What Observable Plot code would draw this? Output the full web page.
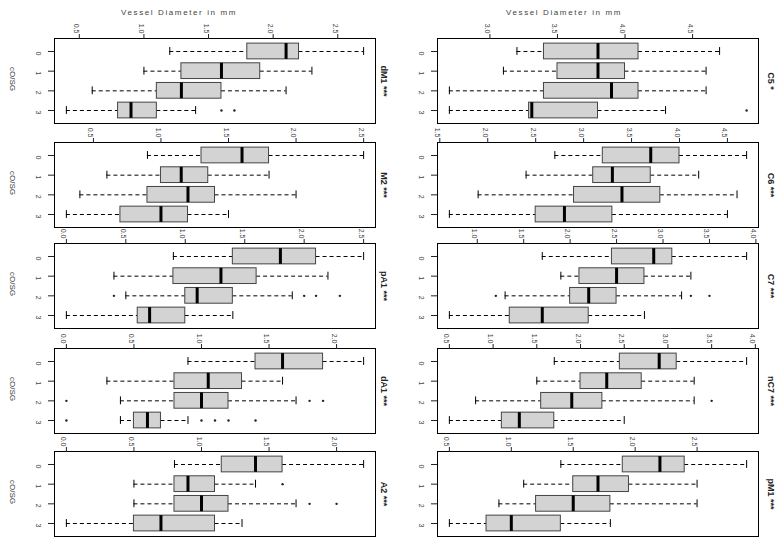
<!DOCTYPE html>
<html><head><meta charset="utf-8">
<script src="https://cdn.jsdelivr.net/npm/d3@7"></script>
<script src="https://cdn.jsdelivr.net/npm/@observablehq/plot@0.6"></script>
<style>
body{margin:0;background:#fff;}
#page{position:relative;width:780px;height:544px;overflow:hidden;font-family:"Liberation Sans",Arial,sans-serif;background:#fff;}
.rot{position:absolute;transform:translate(-50%,-50%) rotate(90deg);white-space:nowrap;color:#333;line-height:1;}
.hz{position:absolute;transform:translate(-50%,-50%);white-space:nowrap;color:#444;font-size:8px;letter-spacing:1.6px;line-height:1;}
.panel{position:absolute;}
</style></head><body><div id="page"></div>
<script>
// ---- data ----
const groups = ["0","1","2","3"];
const groupAxisLabel = "cO/SG";
const valueAxisLabel = "Vessel Diameter in mm";
const titlesLeft = ["dM1 ***","M2 ***","pA1 ***","dA1 ***","A2 ***"];
const titlesRight = ["C5 *","C6 ***","C7 ***","nC7 ***","pM1 ***"];

// five-number summaries per group 0..3: [lower whisker, Q1, median, Q3, upper whisker]
const dM1Stats = [[1.2,1.8,2.1,2.2,2.7],[1.0,1.29,1.6,1.9,2.3],[0.6,1.1,1.29,1.6,2.1],[0.4,0.8,0.9,1.1,1.4]];
const dM1Out = [[3,1.6],[3,1.7]];
const dM1Ticks = [0.5,1.0,1.5,2.0,2.5];

const M2Stats = [[0.9,1.3,1.6,1.8,2.5],[0.6,1.0,1.15,1.35,1.8],[0.4,0.9,1.2,1.4,2.0],[0.3,0.7,1.0,1.2,1.5]];
const M2Out = [];
const M2Ticks = [0.5,1.0,1.5,2.0,2.5];

const pA1Stats = [[0.9,1.4,1.8,2.1,2.5],[0.4,0.9,1.3,1.6,2.2],[0.5,1.0,1.1,1.4,1.9],[0.0,0.6,0.7,1.0,1.4]];
const pA1Out = [[2,0.4],[2,2.0],[2,2.1],[2,2.3]];
const pA1Ticks = [0.0,0.5,1.0,1.5,2.0,2.5];

const dA1Stats = [[0.9,1.4,1.6,1.9,2.2],[0.3,0.8,1.05,1.3,1.6],[0.4,0.8,1.0,1.2,1.7],[0.4,0.5,0.6,0.7,0.9]];
const dA1Out = [[2,0.0],[2,1.8],[2,1.9],[3,0.0],[3,1.0],[3,1.1],[3,1.2],[3,1.4]];
const dA1Ticks = [0.0,0.5,1.0,1.5,2.0];

const A2Stats = [[0.8,1.15,1.4,1.6,2.2],[0.5,0.8,0.9,1.1,1.4],[0.5,0.8,1.0,1.2,1.7],[0.0,0.5,0.7,1.1,1.3]];
const A2Out = [[1,1.6],[2,1.8],[2,2.0]];
const A2Ticks = [0.0,0.5,1.0,1.5,2.0];

const C5Stats = [[3.2,3.4,3.8,4.1,4.7],[3.1,3.5,3.8,4.0,4.6],[2.7,3.4,3.9,4.1,4.6],[2.7,3.29,3.31,3.8,4.3]];
const C5Out = [[3,4.9]];
const C5Ticks = [3.0,3.5,4.0,4.5];

const C6Stats = [[2.7,3.2,3.7,4.0,4.7],[2.4,3.1,3.3,3.7,4.2],[1.9,2.9,3.4,3.8,4.6],[1.6,2.5,2.8,3.3,4.5]];
const C6Out = [];
const C6Ticks = [1.5,2.0,2.5,3.0,3.5,4.0,4.5];

const C7Stats = [[1.7,2.45,2.9,3.1,3.9],[1.9,2.1,2.5,2.8,3.3],[1.3,2.0,2.2,2.5,3.2],[0.7,1.35,1.7,2.2,2.8]];
const C7Out = [[2,1.2],[2,3.3],[2,3.5]];
const C7Ticks = [1.0,1.5,2.0,2.5,3.0,3.5,4.0];

const nC7Stats = [[1.7,2.45,2.9,3.1,3.9],[1.5,2.0,2.3,2.7,3.3],[0.8,1.55,1.9,2.25,3.3],[0.5,1.1,1.3,1.7,2.5]];
const nC7Out = [[2,3.5]];
const nC7Ticks = [0.5,1.0,1.5,2.0,2.5,3.0,3.5,4.0];

const pM1Stats = [[1.4,1.9,2.2,2.4,2.9],[1.1,1.5,1.7,1.95,2.5],[0.9,1.2,1.5,1.8,2.5],[0.5,0.8,1.0,1.4,1.8]];
const pM1Out = [];
const pM1Ticks = [0.5,1.0,1.5,2.0,2.5];

// ---- layout ----
const page = document.getElementById("page");
const frameTops = [38,142,243,348,451];
const frameH = 85, mt = 24, mb = 3;
const fmt = d3.format(".1f");

function panel(stats, outs, ticks, title, col, row) {
  const rows = stats.map((s,i)=>({g:i+1, lab:groups[i], lo:s[0], q1:s[1], med:s[2], q3:s[3], hi:s[4]}));
  const od = outs.map(([g,v])=>({g:g+1, v}));
  const vals = stats.flat().concat(outs.map(o=>o[1]));
  const [mn,mx] = d3.extent(vals); const pad = (mx-mn)*0.04;
  const ml = col===0 ? 54 : 47, mr = col===0 ? 15 : 22;
  const chart = Plot.plot({
    width: 390, height: mt+frameH+mb, marginTop: mt, marginBottom: mb, marginLeft: ml, marginRight: mr,
    x: {domain:[mn-pad, mx+pad], axis:null},
    y: {domain:[0.34, 4.66], reverse:true, axis:null},
    style: {fontFamily:'"Liberation Sans",Arial,sans-serif', background:"transparent", overflow:"visible"},
    marks: [
      Plot.ruleY(rows, {y:"g", x1:"lo", x2:"q1", stroke:"#000", strokeDasharray:"4,3"}),
      Plot.ruleY(rows, {y:"g", x1:"q3", x2:"hi", stroke:"#000", strokeDasharray:"4,3"}),
      Plot.ruleX(rows, {x:"lo", y1:d=>d.g-0.2, y2:d=>d.g+0.2, stroke:"#000"}),
      Plot.ruleX(rows, {x:"hi", y1:d=>d.g-0.2, y2:d=>d.g+0.2, stroke:"#000"}),
      Plot.rect(rows, {x1:"q1", x2:"q3", y1:d=>d.g-0.4, y2:d=>d.g+0.4, fill:"#d3d3d3", stroke:"#444", strokeWidth:1}),
      Plot.ruleX(rows, {x:"med", y1:d=>d.g-0.4, y2:d=>d.g+0.4, stroke:"#000", strokeWidth:3}),
      Plot.dot(od, {x:"v", y:"g", r:1.2, fill:"#222", stroke:null}),
      Plot.frame({stroke:"#000"}),
      Plot.axisX({anchor:"top", ticks:ticks, tickSize:5, tickFormat:()=>"", label:null, stroke:"#222"}),
      Plot.text(ticks, {x:d=>d, text:d=>fmt(d), frameAnchor:"top", dy:-10, rotate:90, fontSize:7, fill:"#444"}),
      Plot.axisY({anchor:"left", ticks:[1,2,3,4], tickSize:6, tickFormat:()=>"", label:null, stroke:"#222"}),
      Plot.text(rows, {y:"g", text:"lab", frameAnchor:"left", dx:-16, rotate:90, fontSize:7, fill:"#444"})
    ]
  });
  const wrap = document.createElement("div");
  wrap.className = "panel";
  wrap.style.left = (col*390)+"px";
  wrap.style.top = (frameTops[row]-mt)+"px";
  wrap.appendChild(chart);
  page.appendChild(wrap);

  const cy = frameTops[row] + frameH/2;
  const t = document.createElement("div");
  t.className = "rot";
  t.style.left = (col===0 ? 383 : 770)+"px";
  t.style.top = cy+"px";
  t.style.fontSize = "9px"; t.style.fontWeight = "bold"; t.style.color = "#222";
  t.textContent = title;
  page.appendChild(t);

  if (col===0) {
    const g = document.createElement("div");
    g.className = "rot";
    g.style.left = "12px"; g.style.top = (cy-2)+"px";
    g.style.fontSize = "8px"; g.style.color = "#444";
    g.textContent = groupAxisLabel;
    page.appendChild(g);
  }
}

const leftSets = [[dM1Stats,dM1Out,dM1Ticks],[M2Stats,M2Out,M2Ticks],[pA1Stats,pA1Out,pA1Ticks],[dA1Stats,dA1Out,dA1Ticks],[A2Stats,A2Out,A2Ticks]];
const rightSets = [[C5Stats,C5Out,C5Ticks],[C6Stats,C6Out,C6Ticks],[C7Stats,C7Out,C7Ticks],[nC7Stats,nC7Out,nC7Ticks],[pM1Stats,pM1Out,pM1Ticks]];
leftSets.forEach((s,i)=>panel(s[0],s[1],s[2],titlesLeft[i],0,i));
rightSets.forEach((s,i)=>panel(s[0],s[1],s[2],titlesRight[i],1,i));

[[179,13],[564,13]].forEach(([x,y])=>{
  const h = document.createElement("div");
  h.className = "hz"; h.style.left = x+"px"; h.style.top = y+"px";
  h.textContent = valueAxisLabel;
  page.appendChild(h);
});
</script>
</body></html>
